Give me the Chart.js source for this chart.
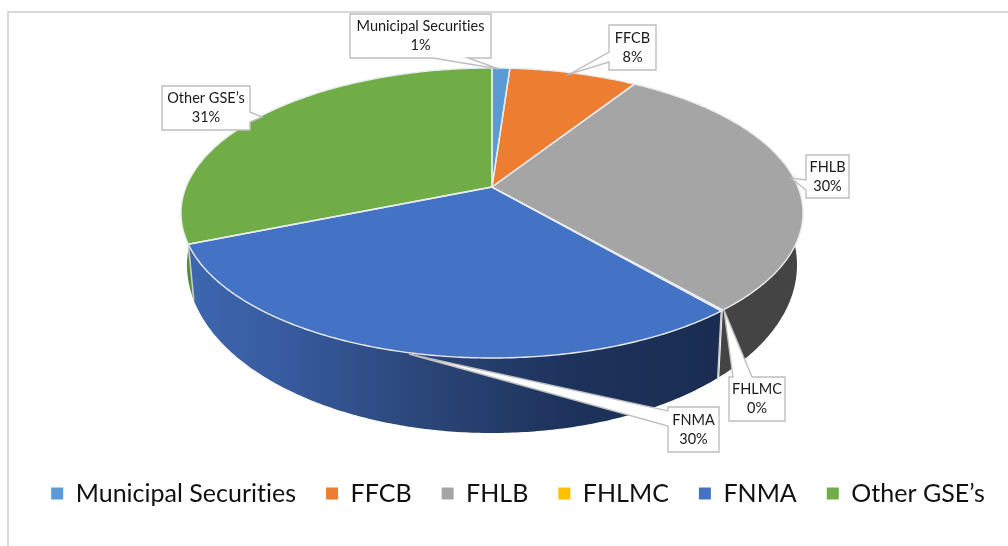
<!DOCTYPE html>
<html>
<head>
<meta charset="utf-8">
<style>html,body{margin:0;padding:0;background:#fff}canvas{display:block}</style>
<script src="https://cdn.jsdelivr.net/npm/chart.js@4"></script>
</head>
<body>
<canvas id="c" width="1008" height="546"></canvas>
<script>
const categories = ["Municipal Securities", "FFCB", "FHLB", "FHLMC", "FNMA", "Other GSE’s"];
const shares = [1.1, 7.9, 29.7, 0.1, 30.0, 31.2];
const sliceColors = ["#5b9bd5", "#ed7d31", "#a5a5a5", "#ffc000", "#4472c4", "#70ad47"];
const wallColors = ["#35668f", "#9c5220", "#444444", "#a87f00", null, "#558a35"];

const FONT = "Lato, Carlito, sans-serif";
const TOP = {cx: 492, cy: 213, rx: 311, ry: 145, k: 0.179};
const BOTTOM = {cx: 492, cy: 265, rx: 305, ry: 168, k: 0.185};

function project(t, e) {
  const u = Math.sin(t), v = Math.cos(t), d = 1 + e.k * v, s = Math.sqrt(1 - e.k * e.k);
  return [e.cx + e.rx * u * s / d, e.cy - e.ry * (v + e.k) / d];
}
function arcPoints(a, b, e) {
  const n = Math.max(2, Math.ceil((b - a) / 0.01)), pts = [];
  for (let i = 0; i <= n; i++) pts.push(project(a + (b - a) * i / n, e));
  return pts;
}
function tracePoly(ctx, pts) {
  ctx.beginPath();
  pts.forEach((p, i) => i ? ctx.lineTo(p[0], p[1]) : ctx.moveTo(p[0], p[1]));
  ctx.closePath();
}

const callouts = [
  {i: 0, box: [350, 14, 491, 58], path: [[433, 58], [499, 69], [468, 58]], edge: "bottom"},
  {i: 1, box: [609, 25, 656, 70], path: [[609, 62], [570, 74], [609, 52]], edge: "left"},
  {i: 2, box: [806, 155, 849, 198], path: [[806, 190], [791, 178], [806, 180]], edge: "left"},
  {i: 3, box: [729, 377, 785, 421], path: [[752, 377], [724, 310], [733, 377]], edge: "top"},
  {i: 4, box: [668, 407, 719, 452], path: [[668, 426], [409, 354], [668, 411]], edge: "left"},
  {i: 5, box: [162, 86, 250, 130], path: [[250, 112], [262, 117], [250, 122]], edge: "right"}
];

function calloutOutline(c) {
  const [x0, y0, x1, y1] = c.box;
  const corners = {top: [x0, y0], right: [x1, y0], bottom: [x1, y1], left: [x0, y1]};
  const pts = [];
  ["top", "right", "bottom", "left"].forEach(edge => {
    pts.push(corners[edge]);
    if (edge === c.edge) {
      const w = c.path.slice();
      const first = w[0], last = w[2];
      const forward = edge === "top" ? first[0] < last[0]
        : edge === "bottom" ? first[0] > last[0]
        : edge === "right" ? first[1] < last[1] : first[1] > last[1];
      (forward ? w : w.reverse()).forEach(p => pts.push(p));
    }
  });
  return pts;
}

const pie3d = {
  id: "pie3d",
  beforeDraw(chart) {
    const {ctx} = chart;
    ctx.letterSpacing = "0.01px";
    ctx.save();
    ctx.fillStyle = "#d9d9d9";
    ctx.fillRect(7, 11, 1001, 2);
    ctx.fillRect(7, 11, 2, 535);
    ctx.restore();
  },
  beforeDatasetsDraw(chart) {
    const {ctx} = chart;
    const arcs = chart.getDatasetMeta(0).data;
    const turn = Math.PI / 2;
    const spans = arcs.map(a => [a.startAngle + turn, a.endAngle + turn]);
    ctx.save();
    [5, 2, 4].forEach(i => {
      const [a, b] = spans[i];
      const topArc = arcPoints(a, b, TOP), botArc = arcPoints(a, b, BOTTOM).reverse();
      tracePoly(ctx, topArc.concat(botArc));
      if (i === 4) {
        const g = ctx.createLinearGradient(190, 0, 725, 0);
        g.addColorStop(0, "#3e67b0");
        g.addColorStop(0.2, "#36599c");
        g.addColorStop(0.43, "#2b4679");
        g.addColorStop(0.7, "#1e335c");
        g.addColorStop(1, "#1a2c50");
        ctx.fillStyle = g;
      } else {
        ctx.fillStyle = wallColors[i];
      }
      ctx.fill();
    });
    ctx.strokeStyle = "#c9ccd2";
    ctx.lineWidth = 1.6;
    [spans[3][1], spans[4][1]].forEach(t => {
      const p = project(t, TOP), q = project(t, BOTTOM);
      ctx.beginPath(); ctx.moveTo(p[0], p[1]); ctx.lineTo(q[0], q[1]); ctx.stroke();
    });
    const apex = [TOP.cx, TOP.cy - TOP.ry * TOP.k];
    ctx.lineJoin = "round";
    spans.forEach(([a, b], i) => {
      tracePoly(ctx, [apex].concat(arcPoints(a, b, TOP)));
      ctx.fillStyle = sliceColors[i];
      ctx.fill();
    });
    spans.forEach(([a, b]) => {
      tracePoly(ctx, [apex].concat(arcPoints(a, b, TOP)));
      ctx.strokeStyle = "#e9ecef";
      ctx.lineWidth = 1.4;
      ctx.stroke();
    });
    ctx.restore();
    return false;
  },
  afterDraw(chart) {
    const {ctx} = chart;
    const total = shares.reduce((a, b) => a + b, 0);
    ctx.save();
    callouts.forEach(c => {
      tracePoly(ctx, calloutOutline(c));
      ctx.fillStyle = "#ffffff";
      ctx.fill();
      ctx.strokeStyle = "#bfbfbf";
      ctx.lineWidth = 1.4;
      ctx.stroke();
      const mx = (c.box[0] + c.box[2]) / 2, my = (c.box[1] + c.box[3]) / 2;
      ctx.fillStyle = "#1a1a1a";
      ctx.font = "14.5px " + FONT;
      ctx.textAlign = "center";
      ctx.textBaseline = "middle";
      ctx.fillText(categories[c.i], mx, my - 9.5);
      ctx.fillText(Math.round(shares[c.i] / total * 100) + "%", mx, my + 9.5);
    });
    ctx.restore();
  }
};

new Chart(document.getElementById("c"), {
  type: "pie",
  data: {
    labels: categories,
    datasets: [{data: shares, backgroundColor: sliceColors, borderWidth: 0}]
  },
  options: {
    responsive: false,
    animation: false,
    layout: {padding: {bottom: 30, left: 14, right: -14}},
    plugins: {
      tooltip: {enabled: false},
      legend: {
        position: "bottom",
        labels: {
          boxWidth: 12,
          boxHeight: 12,
          padding: 30,
          color: "#111111",
          font: {family: FONT, size: 25}
        }
      }
    }
  },
  plugins: [pie3d]
});
</script>
</body>
</html>
